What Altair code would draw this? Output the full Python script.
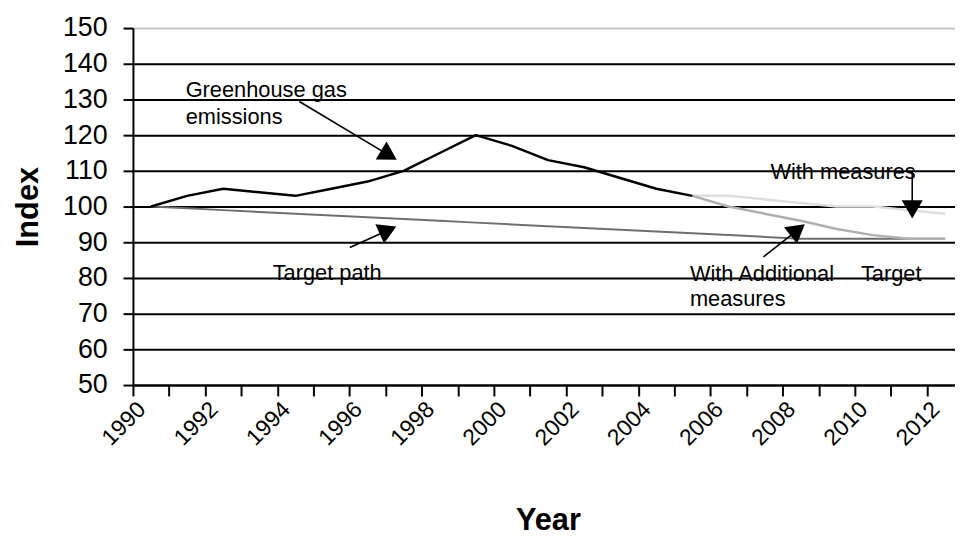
import altair as alt
import pandas as pd

# ---------------- data ----------------
ghg_years = list(range(1990, 2006))
ghg_values = [100, 103, 105, 104, 103, 105, 107, 110, 115, 120, 117, 113, 111, 108, 105, 103]

proj_years = list(range(2005, 2013))
with_measures = [103, 103, 102, 101, 100, 100, 99, 98]
with_additional = [103, 100, 98, 96, 93.7, 92, 91, 91]

target_years = list(range(1990, 2013))
target_path = [100, 99.5, 99, 98.5, 98, 97.5, 97, 96.5, 96, 95.5, 95, 94.5,
               94, 93.5, 93, 92.5, 92, 91.5, 91, 91, 91, 91, 91]

y_ticks = [50, 60, 70, 80, 90, 100, 110, 120, 130, 140, 150]
x_tick_bounds = [1989.5 + i for i in range(23)]   # category boundaries

# annotation texts (anchored in data units: year, index)
ann_text = ["Greenhouse gas", "emissions", "Target path", "With Additional",
            "measures", "With measures", "Target"]
ann_x = [1990.96, 1990.96, 1993.37, 2004.93, 2004.93, 2007.16, 2009.67]
ann_y = [130.56, 123.14, 79.44, 79.25, 72.03, 107.69, 79.25]

# arrows: tail -> head (data units) and head direction (deg)
arr_x = [1994.11, 1995.51, 2006.97, 2011.09]
arr_y = [129.44, 88.53, 85.92, 110.0]
arr_x2 = [1996.52, 1996.49, 2007.85, 2011.09]
arr_y2 = [114.83, 93.03, 92.94, 100.06]
arr_angle = [121, 65.6, 51.7, 180]

# ---------------- frames ----------------
def frame(xs, ys):
    return pd.DataFrame({"x": xs, "y": ys})

xscale = alt.Scale(domain=[1989.5, 2012.275], nice=False, zero=False)
yscale = alt.Scale(domain=[50, 150], nice=False, zero=False)

FONT = "Liberation Sans"

x_axis = alt.Axis(
    values=x_tick_bounds,
    labelExpr="(datum.value + 0.5) % 2 == 0 ? '' + (datum.value + 0.5) : ''",
    labelOffset=8.7, labelAngle=-45, labelAlign="right", labelBaseline="middle",
    labelFont=FONT, labelFontSize=23, labelColor="black", labelPadding=9.5,
    labelOverlap=False, labelFlush=False,
    tickSize=11, tickColor="black", tickWidth=2,
    domainColor="black", domainWidth=2, grid=False,
    title="Year", titleFont=FONT, titleFontSize=31, titleFontWeight="bold",
    titleColor="black", titleX=418.5, titleY=146, titleBaseline="alphabetic",
    titleAlign="center",
)
y_axis = alt.Axis(
    values=y_ticks, grid=True,
    gridColor={"condition": {"test": "datum.value == 150", "value": "#c8c8c8"}, "value": "black"},
    gridWidth=2,
    tickSize=10, tickColor="black", tickWidth=2,
    domainColor="black", domainWidth=2,
    labelFont=FONT, labelFontSize=27, labelColor="black", labelPadding=16,
    title="Index", titleFont=FONT, titleFontSize=31, titleFontWeight="bold",
    titleColor="black", titleX=-96, titleY=180, titleBaseline="alphabetic",
    titleAlign="center", titleAngle=270,
)

XENC = dict(scale=xscale, axis=x_axis)
YENC = dict(scale=yscale, axis=y_axis)


def line(df, color, width):
    return alt.Chart(df).mark_line(color=color, strokeWidth=width, strokeJoin="round").encode(
        x=alt.X("x:Q", **XENC),
        y=alt.Y("y:Q", **YENC),
    )


target_layer = line(frame(target_years, target_path), "#6e6e6e", 2)
wm_layer = line(frame(proj_years, with_measures), "#dedede", 2.5)
wa_layer = line(frame(proj_years, with_additional), "#b0b0b0", 2.5)
ghg_layer = line(frame(ghg_years, ghg_values), "black", 2.5)

ann_df = pd.DataFrame({"t": ann_text, "x": ann_x, "y": ann_y})
text_layer = alt.Chart(ann_df).mark_text(
    align="left", baseline="alphabetic", font=FONT, fontSize=22, color="black"
).encode(
    x=alt.X("x:Q", **XENC),
    y=alt.Y("y:Q", **YENC),
    text="t:N",
)

arr_df = pd.DataFrame({"x": arr_x, "y": arr_y, "x2": arr_x2, "y2": arr_y2, "a": arr_angle})
rule_layer = alt.Chart(arr_df).mark_rule(color="black", strokeWidth=1.6).encode(
    x=alt.X("x:Q", **XENC),
    y=alt.Y("y:Q", **YENC),
    x2="x2:Q",
    y2="y2:Q",
)
head_layer = alt.Chart(arr_df).mark_point(
    shape="triangle", filled=True, size=450, color="black", opacity=1, strokeWidth=0
).encode(
    x=alt.X("x2:Q", **XENC),
    y=alt.Y("y2:Q", **YENC),
    angle=alt.Angle("a:Q", scale=None),
)

chart = alt.layer(
    target_layer, wm_layer, wa_layer, ghg_layer, text_layer, rule_layer, head_layer
).properties(
    width=829, height=360,
    autosize=alt.AutoSizeParams(type="none"),
    padding={"left": 126, "top": 18, "right": 0, "bottom": 150},
    background="white",
).configure_view(strokeWidth=0)

chart.save("out.html", embed_options={"renderer": "svg", "actions": False})
